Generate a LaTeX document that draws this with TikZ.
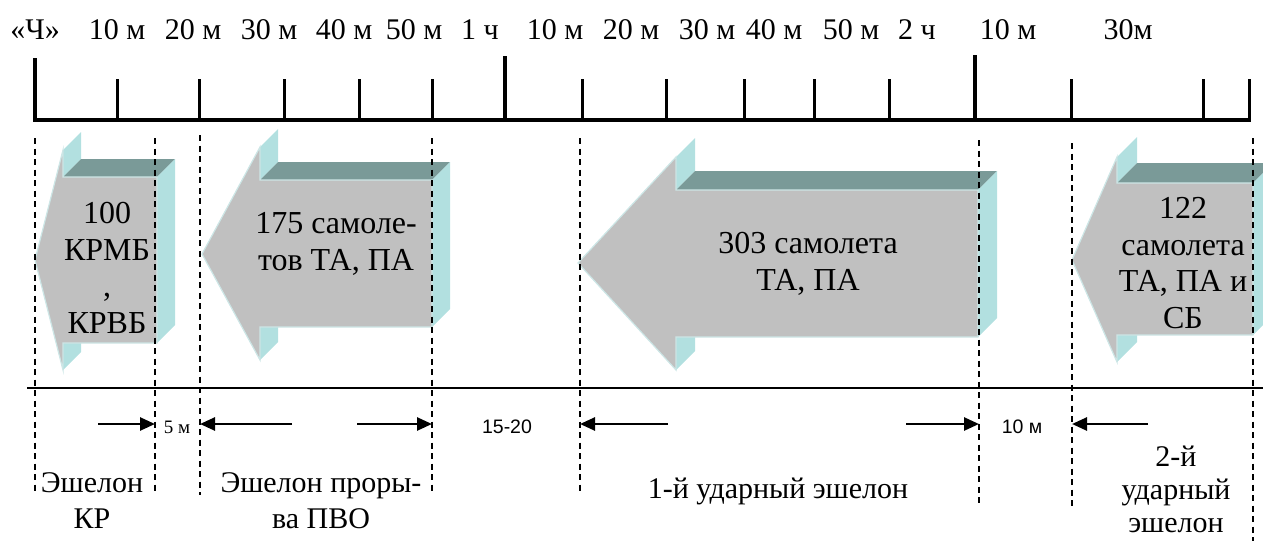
\documentclass[tikz,border=0pt]{standalone}
\usepackage{fontspec}
\setmainfont{Liberation Serif}
\newfontfamily\arialfont{Liberation Sans}
\usetikzlibrary{arrows.meta}
\definecolor{afront}{RGB}{192,192,192}
\definecolor{atop}{RGB}{122,154,152}
\definecolor{aside}{RGB}{178,224,224}
\definecolor{aedge}{RGB}{205,230,230}
\definecolor{baseline}{RGB}{110,110,110}
% 3D block arrow: tip x, centre y, head-back x, head top y, shaft top y, shaft end x, shaft bottom y, head bottom y, depth
\newcommand{\tdarrow}[9]{%
  \fill[aside] (#3,#4) -- (#3+#9,#4-#9) -- (#3+#9,#5-#9) -- (#3,#5) -- cycle;
  \fill[aside] (#3,#7) -- (#3+#9,#7-#9) -- (#3+#9,#8-#9) -- (#3,#8) -- cycle;
  \fill[atop] (#3,#5) -- (#6,#5) -- (#6+#9,#5-#9) -- (#3+#9,#5-#9) -- cycle;
  \fill[aside] (#6,#5) -- (#6+#9,#5-#9) -- (#6+#9,#7-#9) -- (#6,#7) -- cycle;
  \filldraw[fill=afront, draw=aedge, line width=1.2] (#1,#2) -- (#3,#4) -- (#3,#5) -- (#6,#5) -- (#6,#7) -- (#3,#7) -- (#3,#8) -- cycle;
}
\begin{document}
\begin{tikzpicture}[x=1pt,y=-1pt,
  rlabel/.style={anchor=base, inner sep=0pt, font=\fontsize{30}{36}\selectfont},
  atext/.style={align=center, anchor=base, inner sep=0pt, font=\fontsize{32}{36.5}\selectfont},
  blabel/.style={align=center, anchor=base, inner sep=0pt, font=\fontsize{30}{36}\selectfont},
  smallsans/.style={anchor=base, inner sep=0pt, font=\arialfont\fontsize{19.5}{22}\selectfont},
  majortick/.style={line width=4pt},
  minortick/.style={line width=3pt},
  dashline/.style={line width=1.4pt, dash pattern=on 6pt off 4.5pt},
  dimarrow/.style={line width=2.6pt, -{Triangle[length=15pt,width=13pt]}}
]
\useasboundingbox (0,0) rectangle (1263,541);
\clip (0,0) rectangle (1263,541);

% ruler
\draw[line width=4.5pt] (33,120) -- (1251,120);
\foreach \x/\t in {35/58, 505/56, 975/55} \draw[majortick] (\x,\t) -- (\x,120);
\foreach \x in {117,199,284,359,432,582,666,744,814,889,1071,1203,1249}
  \draw[minortick] (\x,79) -- (\x,120);

% ruler labels
\node[rlabel] (r0) at (35,39) {«Ч»};
\node[rlabel] (r1) at (117,39) {10 м};
\node[rlabel] (r2) at (193,39) {20 м};
\node[rlabel] (r3) at (269,39) {30 м};
\node[rlabel] (r4) at (344,39) {40 м};
\node[rlabel] (r5) at (414,39) {50 м};
\node[rlabel] (r6) at (480,39) {1 ч};
\node[rlabel] (r7) at (555,39) {10 м};
\node[rlabel] (r8) at (631,39) {20 м};
\node[rlabel] (r9) at (707,39) {30 м};
\node[rlabel] (r10) at (774,39) {40 м};
\node[rlabel] (r11) at (851,39) {50 м};
\node[rlabel] (r12) at (917,39) {2 ч};
\node[rlabel] (r13) at (1008,39) {10 м};
\node[rlabel] (r14) at (1128,39) {30м};

% block arrows
\tdarrow{35}{260}{63}{150}{177}{157}{343}{370}{18}
\tdarrow{202}{254}{260}{147}{180}{432}{327}{360}{18}
\tdarrow{578}{263}{676}{157}{190}{978}{337}{370}{19}
\tdarrow{1072}{260}{1117}{157}{183}{1253}{335}{362}{20}

% (base anchor = baseline of the last line)
\node[atext] (a1) at (107,333) {100\\КРМБ\\,\\КРВБ};
\node[atext] (a2) at (336,270) {175 самоле-\\тов ТА, ПА};
\node[atext] (a3) at (808,290) {303 самолета\\ТА, ПА};
\node[atext] (a4) at (1183,328) {122\\самолета\\ТА, ПА и\\СБ};

% base line
\draw[line width=2.5pt, baseline] (27,388) -- (1263,388);

% dashed verticals
\draw[dashline] (35,138) -- (35,495);
\draw[dashline] (155,138) -- (155,495);
\draw[dashline] (200,135) -- (200,495);
\draw[dashline] (432,138) -- (432,495);
\draw[dashline] (580,138) -- (580,495);
\draw[dashline] (979,140) -- (979,505);
\draw[dashline] (1072,143) -- (1072,510);
\draw[dashline] (1253,138) -- (1253,541);

% dimension arrows
\coordinate (d1s) at (98,424);   \coordinate (d1e) at (155,424);
\coordinate (d2s) at (292,424);  \coordinate (d2e) at (200,424);
\coordinate (d3s) at (357,424);  \coordinate (d3e) at (432,424);
\coordinate (d4s) at (668,424);  \coordinate (d4e) at (580,424);
\coordinate (d5s) at (906,424);  \coordinate (d5e) at (979,424);
\coordinate (d6s) at (1148,424); \coordinate (d6e) at (1072,424);
\foreach \i in {1,...,6} \draw[dimarrow] (d\i s) -- (d\i e);

\node[anchor=base, inner sep=0pt, font=\fontsize{19}{22}\selectfont] (g1) at (177,433) {5 м};
\node[smallsans] (g2) at (507,433) {15-20};
\node[smallsans] (g3) at (1022,433) {10 м};

% bottom labels
\node[blabel] (b1) at (92,528) {Эшелон\\КР};
\node[blabel] (b2) at (321,528) {Эшелон проры-\\ва ПВО};
\node[blabel] (b3) at (778,498) {1-й ударный эшелон};
\node[blabel, font=\fontsize{30}{33}\selectfont] (b4) at (1176,532) {2-й\\ударный\\эшелон};
\end{tikzpicture}
\end{document}
